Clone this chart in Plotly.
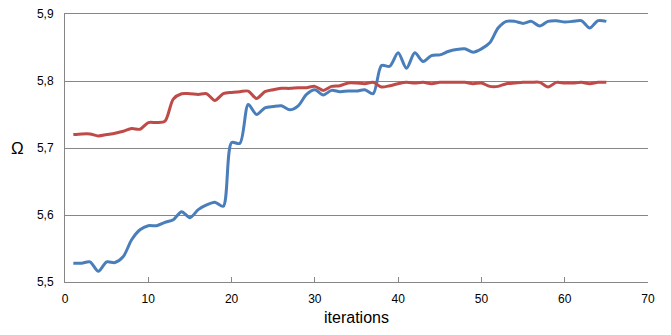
import plotly.graph_objects as go

iterations = list(range(1, 66))

omega_blue = [
    5.528, 5.528, 5.530, 5.516, 5.530, 5.529, 5.538, 5.563, 5.578, 5.584,
    5.584, 5.589, 5.593, 5.605, 5.596, 5.608, 5.615, 5.619, 5.613, 5.708,
    5.707, 5.765, 5.750, 5.760, 5.762, 5.763, 5.757, 5.763, 5.780, 5.787,
    5.779, 5.786, 5.784, 5.785, 5.785, 5.787, 5.781, 5.823, 5.822, 5.842,
    5.819, 5.842, 5.829, 5.838, 5.839, 5.844, 5.847, 5.848, 5.843, 5.848,
    5.857, 5.879, 5.889, 5.889, 5.886, 5.889, 5.882, 5.889, 5.890, 5.888,
    5.889, 5.890, 5.879, 5.890, 5.889,
]

omega_red = [
    5.720, 5.721, 5.721, 5.718, 5.720, 5.722, 5.725, 5.729, 5.728, 5.738,
    5.738, 5.740, 5.773, 5.781, 5.781, 5.780, 5.781, 5.771, 5.781, 5.783,
    5.784, 5.785, 5.774, 5.784, 5.787, 5.789, 5.789, 5.790, 5.790, 5.792,
    5.786, 5.792, 5.793, 5.797, 5.797, 5.796, 5.798, 5.791, 5.793, 5.796,
    5.798, 5.797, 5.798, 5.796, 5.798, 5.798, 5.798, 5.798, 5.796, 5.797,
    5.792, 5.792, 5.796, 5.797, 5.798, 5.798, 5.798, 5.791, 5.798, 5.797,
    5.797, 5.798, 5.796, 5.798, 5.798,
]

font = "Liberation Sans, Arial, sans-serif"
grey = "#868686"

# the page body has an 8px margin, so the figure is drawn 8px smaller
W, H = 663, 327
L, R, T, B = 57, 23, 6, 53

fig = go.Figure()
fig.add_trace(go.Scatter(x=iterations, y=omega_blue, mode="lines",
                         line=dict(color="#4A7EBB", width=3, shape="spline", smoothing=0.8),
                         showlegend=False))
fig.add_trace(go.Scatter(x=iterations, y=omega_red, mode="lines",
                         line=dict(color="#BE4B48", width=3, shape="spline", smoothing=0.8),
                         showlegend=False))

fig.update_layout(
    width=W, height=H,
    margin=dict(l=L, r=R, t=T, b=B),
    paper_bgcolor="white", plot_bgcolor="white",
    separators=",.",
    font=dict(family=font, size=12, color="black"),
    # mirror=True draws the top border, i.e. the 5,9 gridline
    xaxis=dict(range=[0, 70], dtick=10, tick0=0, showgrid=False, zeroline=False,
               showline=True, mirror=True, linecolor=grey, linewidth=1,
               ticks="inside", ticklen=5, tickcolor=grey, automargin=False,
               ticklabelstandoff=6,
               title=dict(text="iterations", font=dict(size=16), standoff=6)),
    yaxis=dict(range=[5.5, 5.9], dtick=0.1, tick0=5.5, tickformat=".1f",
               showgrid=True, gridcolor=grey, gridwidth=1, zeroline=False,
               showline=True, linecolor=grey, linewidth=1, ticks="",
               ticklabelstandoff=8, ticklabeloverflow="allow", automargin=False),
    annotations=[dict(text="Ω", xref="paper", yref="paper",
                      x=(9 - L) / (W - L - R), y=1 - (140 - T) / (H - T - B),
                      xanchor="center", yanchor="middle",
                      showarrow=False, font=dict(size=17))],
)

fig.write_html("out.html")
